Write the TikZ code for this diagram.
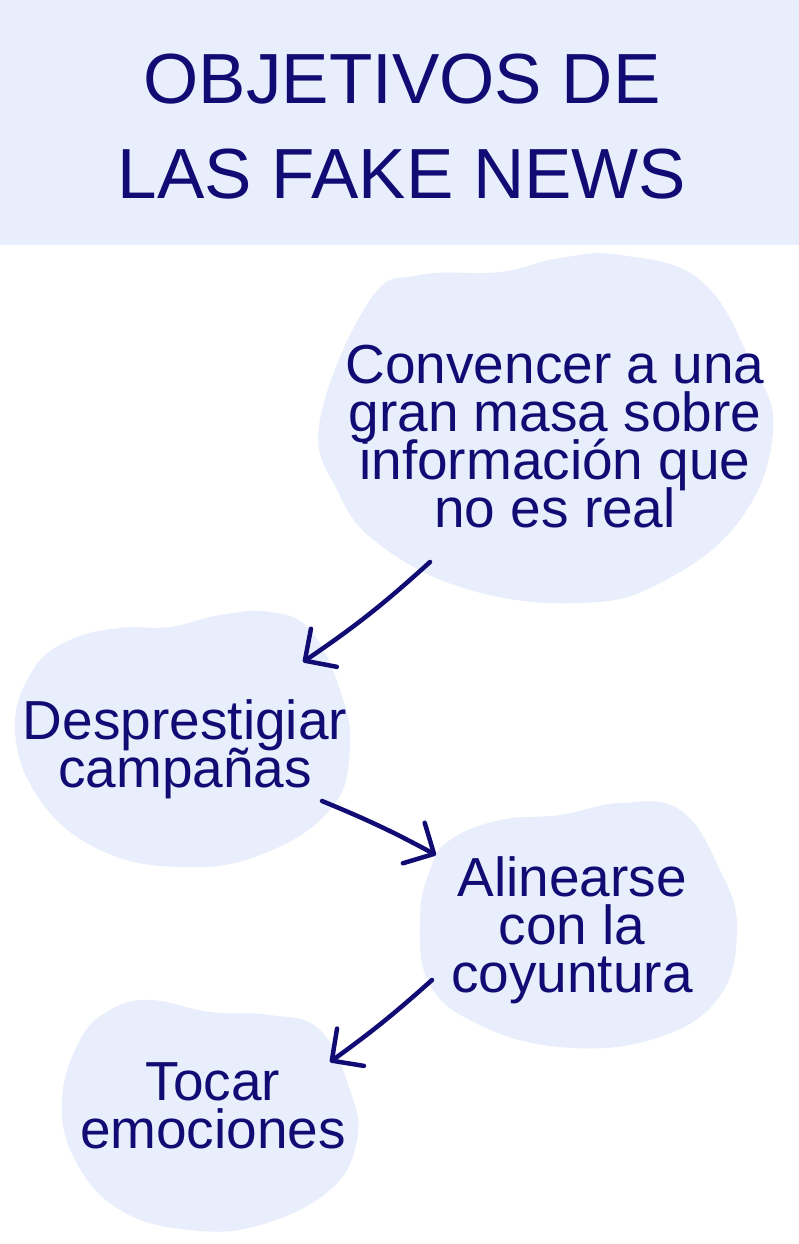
\documentclass[tikz,border=0pt]{standalone}
\usepackage{fontspec}
\setmainfont{Liberation Sans}
\usetikzlibrary{arrows.meta, positioning}
\definecolor{navy}{HTML}{110C74}
\definecolor{blobfill}{HTML}{E8EEFC}
\newcommand{\goalfont}{\fontsize{55}{48}\selectfont\lineskiplimit=-50pt\relax}

\begin{document}
\begin{tikzpicture}[x=1pt, y=-1pt, every node/.style={align=center, text=navy, inner sep=0pt}]
    \tikzset{blob/.style={fill=blobfill, draw=none},
      goal/.style={font=\goalfont, anchor=base},
      flow/.style={draw=navy, line width=4.5pt, line cap=round, -{Straight Barb[length=23pt, width=46pt, round]}}}
    \useasboundingbox (0,0) rectangle (799,1244);
    \fill[white] (0,0) rectangle (799,1244);
    \fill[blobfill] (0,0) rectangle (799,245);
    \node[font=\fontsize{71}{95}\selectfont, anchor=base] (title) at (402,198) {OBJETIVOS DE\\LAS FAKE NEWS};
    \fill[blob] plot[smooth cycle, tension=0.7] coordinates {(320,420) (370,300) (420,275) (500,272) (560,258) (620,255) (700,280) (750,360) (773,430) (740,520) (660,583) (580,603) (470,590) (380,545) (337,490)};
    \fill[blob] plot[smooth cycle, tension=0.7] coordinates {(33,670) (70,640) (120,628) (170,627) (220,615) (270,612) (310,630) (340,690) (350,750) (330,810) (260,855) (180,867) (100,850) (40,800) (15,730)};
    \fill[blob] plot[smooth cycle, tension=0.7] coordinates {(430,870) (450,840) (500,820) (560,815) (620,803) (680,810) (720,870) (737,930) (717,1000) (650,1040) (560,1047) (480,1025) (430,985) (420,920)};
    \fill[blob] plot[smooth cycle, tension=0.7] coordinates {(80,1040) (110,1010) (150,1000) (210,1012) (270,1015) (320,1030) (350,1090) (357,1140) (330,1190) (260,1225) (190,1230) (120,1210) (75,1160) (62,1100)};
    \node[goal] (convencer) at (555,527) {Convencer a una\\gran masa sobre\\información que\\no es real};
    \node[goal] (desprestigiar) at (185,787) {Desprestigiar\\campañas};
    \node[goal] (alinearse) at (572,992) {Alinearse\\con la\\coyuntura};
    \node[goal] (tocar) at (213,1148) {Tocar\\emociones};
    \coordinate (convencer out) at (430,562);
    \coordinate (desprestigiar in) at (303,662);
    \coordinate (desprestigiar out) at (322,801);
    \coordinate (alinearse in) at (436,855);
    \coordinate (alinearse out) at (432,980);
    \coordinate (tocar in) at (330,1062);
    \draw[flow] (convencer out) to[bend left=4] (desprestigiar in);
    \draw[flow] (desprestigiar out) to[bend left=3] (alinearse in);
    \draw[flow] (alinearse out) to[bend left=3] (tocar in);
  \end{tikzpicture}
\end{document}
